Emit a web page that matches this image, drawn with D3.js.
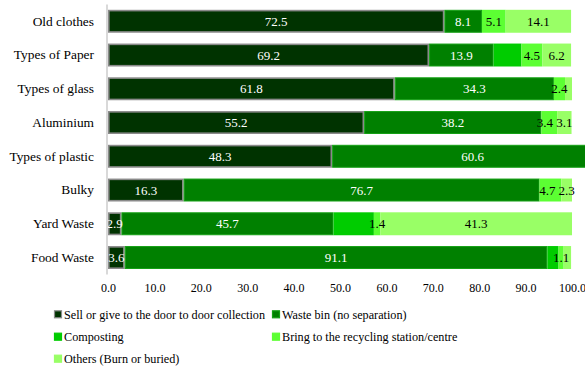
<!DOCTYPE html>
<html><head><meta charset="utf-8">
<script src="https://cdn.jsdelivr.net/npm/d3@7/dist/d3.min.js"></script>
<style>
html,body{margin:0;padding:0;background:#fff;}
svg{display:block;}
</style></head>
<body><svg id="c" width="585" height="366"></svg>
<script>
const FONT = "Liberation Serif";
const categories = ["Old clothes","Types of Paper","Types of glass","Aluminium","Types of plastic","Bulky","Yard Waste","Food Waste"];
const seriesNames = ["Sell or give to the door to door collection","Waste bin (no separation)","Composting","Bring to the recycling station/centre","Others (Burn or buried)"];
const sellValues      = [72.5, 69.2, 61.8, 55.2, 48.3, 16.3, 2.9, 3.6];
const wasteBinValues  = [8.1, 13.9, 34.3, 38.2, 60.6, 76.7, 45.7, 91.1];
const compostValues   = [0, 6.0, 0, 0, 0, 0, 8.7, 2.4];
const recycleValues   = [5.1, 4.5, 2.4, 3.4, 0, 4.7, 1.4, 1.1];
const othersValues    = [14.1, 6.2, 1.5, 3.1, 0, 2.3, 41.3, 1.6];
const sellShown     = [true,true,true,true,true,true,true,true];
const wasteBinShown = [true,true,true,true,true,true,true,true];
const compostShown  = [false,false,false,false,false,false,false,false];
const recycleShown  = [true,true,true,true,false,true,true,true];
const othersShown   = [true,true,false,true,false,true,true,false];
const tickValues = [0,10,20,30,40,50,60,70,80,90,100];

const series = [
  {name: seriesNames[0], values: sellValues, shown: sellShown, fill: "#003300", stroke: "#8a8a8a", sw: 1.6, text: "#ffffff"},
  {name: seriesNames[1], values: wasteBinValues, shown: wasteBinShown, fill: "#008000", stroke: "#14a014", sw: 1, text: "#ffffff"},
  {name: seriesNames[2], values: compostValues, shown: compostShown, fill: "#00cc00", stroke: "none", sw: 0, text: "#000000"},
  {name: seriesNames[3], values: recycleValues, shown: recycleShown, fill: "#5cff33", stroke: "none", sw: 0, text: "#000000"},
  {name: seriesNames[4], values: othersValues, shown: othersShown, fill: "#99ff66", stroke: "none", sw: 0, text: "#000000"}
];

const svg = d3.select("#c");
const x = d3.scaleLinear().domain([0,100]).range([108,572]);
const y = d3.scaleBand().domain(categories).range([4.4,274.4]).paddingInner(0.32).paddingOuter(0.16);

const starts = categories.map(() => 0);
series.forEach(s => {
  s.segs = categories.map((c,i) => {
    const x0 = starts[i]; const x1 = x0 + s.values[i]; starts[i] = x1;
    return {cat: c, idx: i, x0, x1, v: s.values[i], show: s.shown[i], color: s.text};
  });
});

series.forEach(s => {
  svg.append("g").selectAll("rect").data(s.segs.filter(d => d.v > 0)).join("rect")
    .attr("x", d => x(d.x0) + s.sw/2)
    .attr("y", d => y(d.cat) + s.sw/2)
    .attr("width", d => Math.max(0, x(d.x1) - x(d.x0) - s.sw))
    .attr("height", y.bandwidth() - s.sw)
    .attr("fill", s.fill)
    .attr("stroke", s.stroke)
    .attr("stroke-width", s.sw);
});

// labels with simple right-to-left overlap avoidance per row
const labelSize = 13;
const labels = [];
categories.forEach((c,i) => {
  const row = series.map(s => s.segs[i]).filter(d => d.v > 0 && d.show)
    .map(d => ({...d, cx: (x(d.x0) + x(d.x1))/2, w: d.v.toFixed(1).length * 0.42 * labelSize}));
  for (let k = row.length - 2; k >= 0; k--) {
    const next = row[k+1], cur = row[k];
    const limit = next.cx - next.w/2 - 3;
    if (cur.cx + cur.w/2 > limit && cur.v < 10) cur.cx = limit - cur.w/2;
  }
  labels.push(...row);
});
svg.append("g").selectAll("text").data(labels).join("text")
  .attr("x", d => d.cx)
  .attr("y", d => y(d.cat) + y.bandwidth()/2)
  .attr("dy", "0.35em")
  .attr("text-anchor", "middle")
  .attr("font-family", FONT)
  .attr("font-size", labelSize)
  .attr("fill", d => d.color)
  .text(d => d.v.toFixed(1));

svg.append("line").attr("x1",107).attr("x2",107).attr("y1",4.4).attr("y2",274.4)
  .attr("stroke","#d9d9d9").attr("stroke-width",2);

const ya = svg.append("g").attr("transform","translate(94,0)")
  .call(d3.axisLeft(y).tickSize(0).tickPadding(0));
ya.attr("font-family", FONT);
ya.select(".domain").remove();
ya.selectAll("text").attr("font-size",13.4).attr("font-family",FONT).attr("fill","#000");

const xa = svg.append("g").attr("transform","translate(0,280)")
  .call(d3.axisBottom(x).tickValues(tickValues).tickSize(0).tickPadding(3).tickFormat(d3.format(".1f")));
xa.attr("font-family", FONT);
xa.select(".domain").remove();
xa.selectAll("text").attr("font-size",12).attr("font-family",FONT).attr("fill","#000");

const legPos = [[54,314.3],[272,314.3],[54,336.7],[272,336.7],[54,358.7]];
series.forEach((s,i) => {
  const [lx,ly] = legPos[i];
  const g = svg.append("g").attr("transform",`translate(${lx},${ly})`);
  g.append("rect").attr("x",0.5).attr("y",-3.5).attr("width",7).attr("height",7)
    .attr("fill", s.fill)
    .attr("stroke", i===0 ? "#8a8a8a" : (i===1 ? "#14a014" : s.fill)).attr("stroke-width", 1.2);
  g.append("text").attr("x",10).attr("y",0).attr("dy","0.35em")
    .attr("font-family", FONT).attr("font-size",12.2).attr("fill","#000").text(s.name);
});
</script></body></html>
